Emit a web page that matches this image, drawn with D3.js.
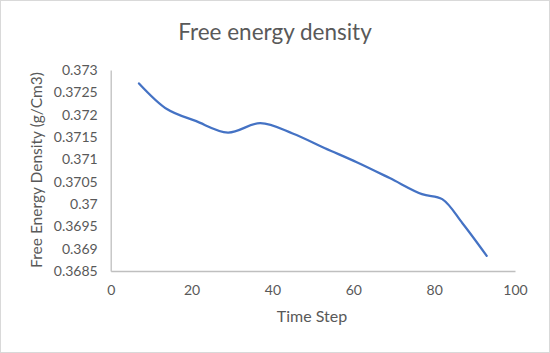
<!DOCTYPE html>
<html>
<head>
<meta charset="utf-8">
<script src="https://cdn.jsdelivr.net/npm/d3@7"></script>
<style>
  body { margin: 0; background: #fff; }
  text { font-family: Lato, "Open Sans", sans-serif; fill: #595959; }
</style>
</head>
<body>
<svg id="chart" width="550" height="353"></svg>
<script>
// data
var timeSteps = [7, 14, 21, 29, 37, 45, 53, 61, 69, 77, 82, 87, 93];
var density = [0.3727, 0.37212, 0.37186, 0.3716, 0.37181, 0.37158, 0.37125, 0.37093, 0.37058, 0.37022, 0.37011, 0.36957, 0.36884];
var xTicks = [0, 20, 40, 60, 80, 100];
var yTicks = [0.3685, 0.369, 0.3695, 0.37, 0.3705, 0.371, 0.3715, 0.372, 0.3725, 0.373];

var svg = d3.select('#chart');

// chart area border
svg.append('rect')
  .attr('x', 0.5).attr('y', 0.5)
  .attr('width', 549).attr('height', 352)
  .attr('fill', '#fff')
  .attr('stroke', '#d9d9d9');

// plot area (window.top is reserved, so no 'top' var)
var plotL = 110.7, plotR = 515, plotT = 70, plotB = 271;

var x = d3.scaleLinear().domain([0, 100]).range([plotL, plotR]);
var y = d3.scaleLinear().domain([0.3685, 0.373]).range([plotB, plotT]);

// axes: just the lines + labels, excel style
var xAxis = svg.append('g')
  .attr('transform', 'translate(0,' + plotB + ')')
  .call(d3.axisBottom(x).tickValues(xTicks).tickSize(0).tickPadding(14).tickFormat(d3.format('d')));
xAxis.select('.domain').attr('stroke', '#bfbfbf').attr('stroke-width', 1.3);
xAxis.selectAll('text').attr('font-size', 14).style('font-family', null);

var yAxis = svg.append('g')
  .attr('transform', 'translate(' + plotL + ',0)')
  .call(d3.axisLeft(y).tickValues(yTicks).tickSize(0).tickPadding(13).tickFormat(function(d) { return +d.toFixed(4); }));
yAxis.select('.domain').attr('stroke', '#bfbfbf').attr('stroke-width', 1.3);
yAxis.selectAll('text').attr('font-size', 14).style('font-family', null);

// smoothed line
var line = d3.line()
  .x(function(d, i) { return x(timeSteps[i]); })
  .y(function(d) { return y(d); })
  .curve(d3.curveCatmullRom.alpha(0.5));

svg.append('path')
  .datum(density)
  .attr('d', line)
  .attr('fill', 'none')
  .attr('stroke', '#4472c4')
  .attr('stroke-width', 2.25)
  .attr('stroke-linecap', 'round');

// titles
svg.append('text')
  .attr('x', 275).attr('y', 40)
  .attr('text-anchor', 'middle')
  .attr('font-size', 22.5)
  .text('Free energy density');

svg.append('text')
  .attr('x', 312).attr('y', 322)
  .attr('text-anchor', 'middle')
  .attr('font-size', 16)
  .text('Time Step');

svg.append('text')
  .attr('transform', 'translate(42,170) rotate(-90)')
  .attr('text-anchor', 'middle')
  .attr('font-size', 15.5)
  .text('Free Energy Density (g/Cm3)');
</script>
</body>
</html>
